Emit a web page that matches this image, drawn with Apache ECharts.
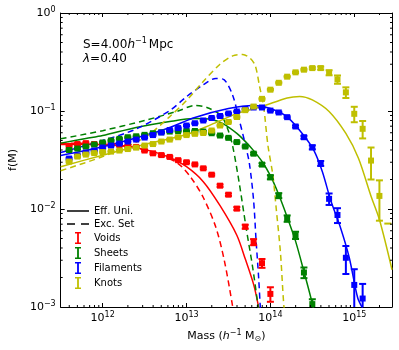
<!DOCTYPE html>
<html>
<head>
<meta charset="utf-8">
<script src="https://cdn.jsdelivr.net/npm/echarts@6/dist/echarts.min.js"></script>
<style>
  html, body { margin: 0; padding: 0; background: #fff; }
  #chart { width: 399px; height: 350px; }
</style>
</head>
<body>
<div id="chart"></div>
<script>
// measured halo mass function points (log10 mass bins)
const binLogM = [11.6, 11.7, 11.8, 11.9, 12.0, 12.1, 12.2, 12.3, 12.4, 12.5,
  12.6, 12.7, 12.8, 12.9, 13.0, 13.1, 13.2, 13.3, 13.4, 13.5,
  13.6, 13.7, 13.8, 13.9, 14.0, 14.1, 14.2, 14.3, 14.4, 14.5,
  14.6, 14.7, 14.8, 14.9, 15.0, 15.1, 15.2, 15.3, 15.4];

const voidVals = [0.044, 0.046, 0.047, 0.046, 0.046, 0.046, 0.045, 0.044, 0.043, 0.0395,
  0.037, 0.0355, 0.034, 0.0315, 0.030, 0.0285, 0.026, 0.0224, 0.0173, 0.0140,
  0.0101, 0.0066, 0.0046, 0.0028, 0.00136];
const voidErr = [0.0009, 0.0009, 0.0009, 0.0009, 0.0009, 0.0009, 0.0009, 0.0009, 0.0009, 0.0008,
  0.0008, 0.0008, 0.0007, 0.0007, 0.0007, 0.0006, 0.0006, 0.0005, 0.0005, 0.0004,
  0.00036, 0.0003, 0.00033, 0.00029, 0.00023];

const sheetVals = [0.040, 0.0414, 0.0434, 0.0455, 0.0477, 0.0500, 0.0520, 0.0540, 0.0552, 0.0571,
  0.0593, 0.0607, 0.0617, 0.0625, 0.0625, 0.0625, 0.0617, 0.0593, 0.0562, 0.0532,
  0.0482, 0.0434, 0.0367, 0.0284, 0.0211, 0.0137, 0.0080, 0.0054, 0.00225, 0.00107];
const sheetErr = [0.0008, 0.0008, 0.0008, 0.0008, 0.0009, 0.0009, 0.0009, 0.0009, 0.0009, 0.0009,
  0.0009, 0.0009, 0.0009, 0.0009, 0.0009, 0.0009, 0.0009, 0.0009, 0.0009, 0.0009,
  0.0009, 0.0009, 0.0009, 0.0009, 0.001, 0.0008, 0.0006, 0.00046, 0.00028, 0.00013];

const filVals = [0.0327, 0.0351, 0.0377, 0.0395, 0.0424, 0.0444, 0.0465, 0.0488, 0.0511, 0.0536,
  0.0568, 0.0603, 0.0639, 0.0670, 0.0711, 0.0750, 0.0800, 0.0848, 0.0889, 0.0943,
  0.0988, 0.105, 0.1086, 0.1086, 0.101, 0.0966, 0.0865, 0.0695, 0.0540, 0.0426,
  0.0292, 0.0127, 0.00869, 0.00318, 0.00168, 0.00122];
const filErr = [0.0007, 0.0007, 0.0007, 0.0007, 0.0008, 0.0008, 0.0008, 0.0008, 0.0009, 0.0009,
  0.0009, 0.001, 0.001, 0.001, 0.0011, 0.0011, 0.0012, 0.0012, 0.0013, 0.0013,
  0.0014, 0.0014, 0.0015, 0.0015, 0.0016, 0.0016, 0.0017, 0.0017, 0.0018, 0.002,
  0.0017, 0.0017, 0.0015, 0.00101, 0.00075, 0.0005];

const knotVals = [0.0305, 0.0343, 0.0359, 0.0372, 0.0381, 0.0385, 0.0395, 0.0409, 0.0423, 0.0444,
  0.0460, 0.0488, 0.0511, 0.0540, 0.0568, 0.0585, 0.0596, 0.0632, 0.0711, 0.0772,
  0.0868, 0.102, 0.111, 0.133, 0.165, 0.194, 0.224, 0.248, 0.264, 0.274,
  0.274, 0.246, 0.210, 0.155, 0.0936, 0.0658, 0.0312, 0.0136, 0.0009];
const knotErr = [0.0006, 0.0006, 0.0006, 0.0006, 0.0006, 0.0006, 0.0006, 0.0007, 0.0007, 0.0007,
  0.0007, 0.0008, 0.0008, 0.0009, 0.0009, 0.001, 0.001, 0.0011, 0.0012, 0.0013,
  0.0015, 0.0017, 0.0019, 0.0022, 0.0027, 0.0031, 0.0036, 0.0042, 0.005, 0.0065,
  0.0097, 0.0146, 0.0204, 0.0193, 0.0168, 0.0133, 0.0112, 0.006, 0.0062];

// model curves: effective universality (solid) and excursion set (dashed)
const effVoidLogM = [11.5, 11.8, 12.1, 12.4, 12.6, 12.8, 13.0, 13.2, 13.4, 13.6, 13.7, 13.8, 13.86, 13.95];
const effVoidF = [0.0454, 0.0458, 0.045, 0.0423, 0.0385, 0.0335, 0.027, 0.019, 0.0108, 0.0054, 0.0031, 0.0017, 0.001, 0.0004];
const excVoidLogM = [11.5, 12.0, 12.4, 12.7, 12.9, 13.05, 13.2, 13.35, 13.45, 13.55, 13.62];
const excVoidF = [0.047, 0.046, 0.042, 0.035, 0.0291, 0.0211, 0.0131, 0.0065, 0.0030, 0.00101, 0.0004];

const effSheetLogM = [11.5, 11.8, 12.0, 12.4, 12.8, 13.1, 13.3, 13.45, 13.6, 13.7, 13.8, 13.9, 14.0, 14.1, 14.2, 14.3, 14.4, 14.5, 14.58];
const effSheetF = [0.047, 0.0524, 0.0562, 0.068, 0.0781, 0.0837, 0.0818, 0.073, 0.059, 0.049, 0.0394, 0.0305, 0.0219, 0.014, 0.0083, 0.0047, 0.0023, 0.00108, 0.0005];
const excSheetLogM = [11.5, 12.0, 12.5, 12.9, 13.1, 13.25, 13.41, 13.49, 13.55, 13.63, 13.71, 13.79, 13.85, 13.9];
const excSheetF = [0.052, 0.063, 0.080, 0.100, 0.114, 0.108, 0.090, 0.066, 0.044, 0.0181, 0.0065, 0.0025, 0.00107, 0.0005];

const effFilLogM = [11.5, 12.0, 12.5, 12.8, 13.1, 13.5, 13.8, 14.0, 14.2, 14.4, 14.52, 14.62, 14.72, 14.84, 14.94, 15.04, 15.1];
const effFilF = [0.0351, 0.0431, 0.0562, 0.0678, 0.0859, 0.106, 0.114, 0.106, 0.087, 0.056, 0.0395, 0.024, 0.0122, 0.0063, 0.0032, 0.00125, 0.00097];
const excFilLogM = [11.5, 12.0, 12.4, 12.8, 13.0, 13.2, 13.35, 13.45, 13.55, 13.62, 13.7, 13.75, 13.8, 13.83, 13.86, 13.88, 13.9];
const excFilF = [0.0377, 0.050, 0.0655, 0.101, 0.14, 0.185, 0.215, 0.208, 0.145, 0.087, 0.046, 0.029, 0.0122, 0.0047, 0.002, 0.001, 0.0006];

const effKnotLogM = [11.5, 12.0, 12.5, 13.0, 13.3, 13.6, 13.9, 14.2, 14.35, 14.5, 14.7, 14.9, 15.05, 15.2, 15.3, 15.45];
const effKnotF = [0.027, 0.0354, 0.0455, 0.0575, 0.073, 0.094, 0.111, 0.136, 0.141, 0.130, 0.099, 0.059, 0.033, 0.0135, 0.0078, 0.0024];
const excKnotLogM = [11.5, 12.0, 12.5, 12.8, 13.0, 13.2, 13.4, 13.55, 13.67, 13.76, 13.82, 13.87, 13.92, 13.97, 14.03, 14.07, 14.12, 14.16, 14.2];
const excKnotF = [0.0246, 0.0343, 0.0535, 0.0877, 0.128, 0.20, 0.30, 0.365, 0.378, 0.345, 0.29, 0.18, 0.11, 0.045, 0.022, 0.010, 0.0036, 0.00105, 0.0005];

const classes = [
  { name: 'Voids',     color: '#ff0000', vals: voidVals,  err: voidErr,  eff: [effVoidLogM, effVoidF],   exc: [excVoidLogM, excVoidF] },
  { name: 'Sheets',    color: '#008000', vals: sheetVals, err: sheetErr, eff: [effSheetLogM, effSheetF], exc: [excSheetLogM, excSheetF] },
  { name: 'Filaments', color: '#0000ff', vals: filVals,   err: filErr,   eff: [effFilLogM, effFilF],     exc: [excFilLogM, excFilF] },
  { name: 'Knots',     color: '#bfbf00', vals: knotVals,  err: knotErr,  eff: [effKnotLogM, effKnotF],   exc: [excKnotLogM, excKnotF] },
];

const FONT = 'DejaVu Sans';
const X_MIN = Math.pow(10, 11.5), X_MAX = Math.pow(10, 15.45);
const Y_MIN = 1e-3, Y_MAX = 1;

const curve = (lm, f) => lm.map((m, i) => [Math.pow(10, m), f[i]]);

const powLabel = v => {
  const e = Math.log10(v);
  const r = Math.round(e);
  if (Math.abs(e - r) > 0.01) return '';
  return '{b|10}{s|' + String(r).replace('-', '\u2212') + '}';
};
const powRich = {
  b: { fontFamily: FONT, fontSize: 11, color: '#000' },
  s: { fontFamily: FONT, fontSize: 8, color: '#000', padding: [0, 0, 7, 0] },
};

function renderBars(params, api) {
  const x = api.value(0), v = api.value(1), e = api.value(2);
  const col = api.visual('color');
  const c = api.coord([x, v]);
  const hi = api.coord([x, v + e]);
  const st = { stroke: col, lineWidth: 2 };
  const kids = [];
  const cap = y => ({ type: 'line', shape: { x1: c[0] - 3.5, y1: y, x2: c[0] + 3.5, y2: y }, style: st });
  if (v - e > 0) {
    const lo = api.coord([x, v - e]);
    kids.push({ type: 'line', shape: { x1: c[0], y1: hi[1], x2: c[0], y2: lo[1] }, style: st });
    kids.push(cap(hi[1]), cap(lo[1]));
    kids.push({ type: 'rect', shape: { x: c[0] - 3, y: c[1] - 3, width: 6, height: 6 }, style: { fill: col } });
  } else {
    kids.push(cap(hi[1]));
  }
  return { type: 'group', children: kids };
}

// minor ticks at 2..9 x 10^n, drawn inward on all four sides
const minorX = [], minorY = [];
for (let n = 11; n <= 15; n++) for (let k = 2; k <= 9; k++) {
  const v = k * Math.pow(10, n);
  if (v > X_MIN && v < X_MAX) minorX.push([v, Y_MIN]);
}
for (let n = -3; n <= -1; n++) for (let k = 2; k <= 9; k++) minorY.push([X_MIN, k * Math.pow(10, n)]);

function renderMinorX(params, api) {
  const cs = params.coordSys;
  const p = api.coord([api.value(0), Y_MIN]);
  const b = cs.y + cs.height, t = cs.y;
  const st = { stroke: '#000', lineWidth: 1 };
  return { type: 'group', children: [
    { type: 'line', shape: { x1: p[0], y1: b, x2: p[0], y2: b - 2 }, style: st },
    { type: 'line', shape: { x1: p[0], y1: t, x2: p[0], y2: t + 2 }, style: st },
  ] };
}
function renderMinorY(params, api) {
  const cs = params.coordSys;
  const p = api.coord([X_MIN, api.value(1)]);
  const l = cs.x, r = cs.x + cs.width;
  const st = { stroke: '#000', lineWidth: 1 };
  return { type: 'group', children: [
    { type: 'line', shape: { x1: l, y1: p[1], x2: l + 2, y2: p[1] }, style: st },
    { type: 'line', shape: { x1: r, y1: p[1], x2: r - 2, y2: p[1] }, style: st },
  ] };
}

const series = [
  { name: 'Eff. Uni.', type: 'line', data: [], symbol: 'none', itemStyle: { color: '#000' }, lineStyle: { color: '#000', width: 1.5 } },
  { name: 'Exc. Set', type: 'line', data: [], symbol: 'none', itemStyle: { color: '#000' }, lineStyle: { color: '#000', width: 1.5, type: [6, 4] } },
];
classes.forEach(c => {
  series.push({
    type: 'line', data: curve(c.eff[0], c.eff[1]), symbol: 'none', smooth: 0.3, z: 2,
    lineStyle: { color: c.color, width: 1.5 }, silent: true,
  });
  series.push({
    type: 'line', data: curve(c.exc[0], c.exc[1]), symbol: 'none', smooth: 0.3, z: 2,
    lineStyle: { color: c.color, width: 1.5, type: [6, 4] }, silent: true,
  });
});
classes.forEach(c => {
  series.push({
    name: c.name, type: 'custom', renderItem: renderBars, clip: true, z: 4,
    itemStyle: { color: c.color },
    encode: { x: 0, y: 1 },
    data: c.vals.map((v, i) => [Math.pow(10, binLogM[i]), v, c.err[i]]),
  });
});
series.push({ type: 'custom', renderItem: renderMinorX, data: minorX, silent: true, z: 5 });
series.push({ type: 'custom', renderItem: renderMinorY, data: minorY, silent: true, z: 5 });

const barIcon = 'path://M0,0H6V1.6H3.9V10.4H6V12H0V10.4H2.1V1.6H0Z';
const solidIcon = 'path://M0,0H22V1.5H0Z';
const dashIcon = 'path://M0,0H8V1.5H0Z M14,0H22V1.5H14Z';

const logAxis = (extra) => Object.assign({
  type: 'log', logBase: 10,
  axisLine: { show: true, onZero: false, lineStyle: { color: '#000', width: 1 } },
  axisTick: { show: true, inside: true, length: 4, lineStyle: { color: '#000' } },
  splitLine: { show: false },
  minorTick: { show: false },
}, extra);

const chart = echarts.init(document.getElementById('chart'), null, { renderer: 'canvas' });
chart.setOption({
  animation: false,
  backgroundColor: '#fff',
  textStyle: { fontFamily: FONT },
  grid: { left: 60, right: 7, top: 13, bottom: 43, containLabel: false },
  xAxis: [
    logAxis({
      position: 'bottom', min: X_MIN, max: X_MAX,
      axisLabel: { formatter: powLabel, rich: powRich, margin: 4 },
      name: 'Mass ({i|h}{s|\u22121} M{o|\u2299})', nameLocation: 'middle', nameGap: 20,
      nameTextStyle: {
        fontFamily: FONT, fontSize: 11, color: '#000',
        rich: {
          i: { fontFamily: FONT, fontSize: 11, fontStyle: 'italic', color: '#000' },
          s: { fontFamily: FONT, fontSize: 8, color: '#000', padding: [0, 0, 7, 0] },
          o: { fontFamily: FONT, fontSize: 8, color: '#000', padding: [6, 0, 0, 0] },
        },
      },
    }),
    logAxis({ position: 'top', min: X_MIN, max: X_MAX, axisLabel: { show: false } }),
  ],
  yAxis: [
    logAxis({
      position: 'left', min: Y_MIN, max: Y_MAX,
      axisLabel: { formatter: powLabel, rich: powRich, margin: 5 },
      name: 'f(M)', nameLocation: 'middle', nameGap: 32, nameRotate: 90,
      nameTextStyle: { fontFamily: FONT, fontSize: 11, color: '#000' },
    }),
    logAxis({ position: 'right', min: Y_MIN, max: Y_MAX, axisLabel: { show: false } }),
  ],
  legend: {
    orient: 'vertical', left: 67, top: 206, padding: 0,
    itemWidth: 22, itemHeight: 12, itemGap: 3,
    textStyle: { fontFamily: FONT, fontSize: 10, color: '#000' },
    data: [
      { name: 'Eff. Uni.', icon: solidIcon },
      { name: 'Exc. Set', icon: dashIcon },
      { name: 'Voids', icon: barIcon },
      { name: 'Sheets', icon: barIcon },
      { name: 'Filaments', icon: barIcon },
      { name: 'Knots', icon: barIcon },
    ],
    selectedMode: false,
  },
  graphic: [
    {
      type: 'text', left: 83, top: 37,
      style: {
        text: '{n|S=4.00}{i|h}{s|\u22121}{n|Mpc}',
        rich: {
          n: { fontFamily: FONT, fontSize: 12, fill: '#000' },
          i: { fontFamily: FONT, fontSize: 12, fontStyle: 'italic', fill: '#000' },
          s: { fontFamily: FONT, fontSize: 8, fill: '#000', padding: [0, 2, 8, 0] },
        },
      },
    },
    {
      type: 'text', left: 83, top: 53,
      style: {
        text: '{i|\u03bb}{n|=0.40}',
        rich: {
          n: { fontFamily: FONT, fontSize: 12, fill: '#000' },
          i: { fontFamily: FONT, fontSize: 12, fontStyle: 'italic', fill: '#000' },
        },
      },
    },
  ],
  series: series,
});
</script>
</body>
</html>
